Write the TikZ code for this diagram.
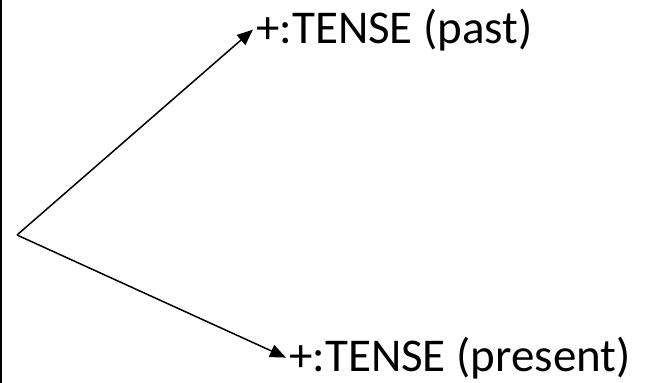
\documentclass[tikz,border=0pt]{standalone}
\usepackage{fontspec}
\setmainfont{Carlito}
\usetikzlibrary{arrows.meta}
\begin{document}
\begin{tikzpicture}[x=1pt,y=-1pt,
  label/.style={anchor=base west,inner sep=0pt,inner xsep=3pt,
    font=\fontsize{47}{56}\selectfont},
  branch/.style={line width=1.5pt,-{Triangle[length=16pt,width=13pt]}}]
  \useasboundingbox (0,0) rectangle (646,383);
  % left border rule
  \fill (0,0) rectangle (2,383);
  \coordinate (root) at (17,235);
  \node[label] (past) at (253,43) {+:TENSE (past)};
  \node[label] (present) at (286,371) {+:TENSE (present)};
  \draw[branch] (root) -- (past.west);
  \draw[branch] (root) -- (present.west);
\end{tikzpicture}
\end{document}
